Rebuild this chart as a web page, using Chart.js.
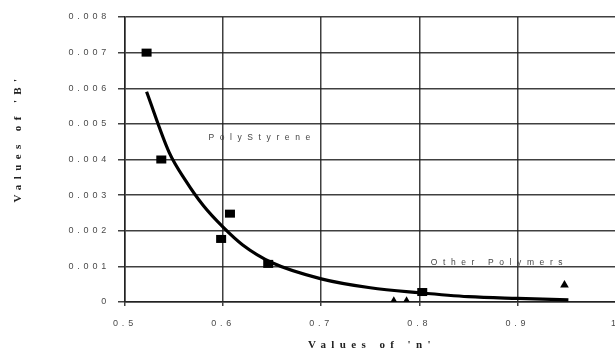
<!DOCTYPE html>
<html>
<head>
<meta charset="utf-8">
<script src="https://cdn.jsdelivr.net/npm/chart.js@4.4.1/dist/chart.umd.min.js"></script>
<style>
html,body{margin:0;padding:0;background:#fff;overflow:hidden;width:615px;height:353px;}
#wrap{position:relative;width:630px;height:353px;}
</style>
</head>
<body>
<div id="wrap"><canvas id="c" width="630" height="353"></canvas></div>
<script>
// Data
const polystyreneN = [0.522, 0.537, 0.598, 0.607, 0.646, 0.803];
const polystyreneB = [0.0070, 0.0040, 0.00177, 0.00248, 0.00107, 0.00028];
const otherN = [0.774, 0.787, 0.948];
const otherB = [0.00002, 0.00002, 0.00048];
const fitN = [0.522, 0.545, 0.562, 0.58, 0.6, 0.62, 0.65, 0.7, 0.75, 0.8, 0.85, 0.9, 0.952];
const fitB = [0.0059, 0.0042, 0.0034, 0.0027, 0.0021, 0.0016, 0.0011, 0.00065, 0.0004, 0.00026, 0.00015, 0.0001, 0.00006];
const xTicks = [0.5, 0.6, 0.7, 0.8, 0.9, 1];
const yTicks = [0, 0.001, 0.002, 0.003, 0.004, 0.005, 0.006, 0.007, 0.008];
const xTitle = "Values of 'n'";
const yTitle = "Values of 'B'";
const labelPoly = "PolyStyrene";
const labelOther = "Other Polymers";

const zip = (a, b) => a.map((v, i) => ({x: v, y: b[i]}));

const spacingPlugin = {
  id: 'spacing',
  beforeDraw(chart) { chart.ctx.letterSpacing = '3.8px'; },
  afterDraw(chart) {
    const ctx = chart.ctx;
    const xs = chart.scales.x, ys = chart.scales.y;
    ctx.save();
    ctx.letterSpacing = '5.6px';
    ctx.font = '8.5px "Liberation Sans", Arial, sans-serif';
    ctx.fillStyle = '#444';
    ctx.textBaseline = 'middle';
    ctx.textAlign = 'left';
    ctx.fillText(labelPoly, xs.getPixelForValue(0.585), ys.getPixelForValue(0.00462));
    ctx.fillText(labelOther, xs.getPixelForValue(0.8117), ys.getPixelForValue(0.0011));
    ctx.letterSpacing = '5.4px';
    ctx.font = 'bold 11px "Liberation Serif", "Times New Roman", serif';
    ctx.fillStyle = '#222';
    ctx.textAlign = 'center';
    ctx.fillText(xTitle, 372, 345);
    ctx.translate(18, 138);
    ctx.rotate(-Math.PI / 2);
    ctx.fillText(yTitle, 0, 0);
    ctx.restore();
  }
};

const rectPlugin = {
  id: 'rects',
  afterDatasetsDraw(chart) {
    const ctx = chart.ctx;
    const meta = chart.getDatasetMeta(1);
    ctx.save();
    ctx.fillStyle = '#000';
    meta.data.forEach(p => { ctx.fillRect(p.x - 5, p.y - 4, 10, 8); });
    ctx.restore();
  }
};

new Chart(document.getElementById('c'), {
  type: 'scatter',
  data: {
    datasets: [
      {
        label: 'fit', type: 'line', data: zip(fitN, fitB),
        borderColor: '#000', borderWidth: 3.2, pointRadius: 0,
        cubicInterpolationMode: 'monotone', fill: false, order: 2
      },
      {
        label: 'PolyStyrene', data: zip(polystyreneN, polystyreneB),
        pointRadius: 0, order: 1,
        backgroundColor: '#000', borderColor: '#000'
      },
      {
        label: 'Other Polymers', data: zip(otherN, otherB),
        pointStyle: 'triangle', pointRadius: 5, order: 1,
        backgroundColor: '#000', borderColor: '#000', borderWidth: 0
      }
    ]
  },
  options: {
    responsive: false,
    animation: false,
    devicePixelRatio: 1,
    layout: {padding: {left: 0, right: 11, top: 17, bottom: 0}},
    plugins: {legend: {display: false}, tooltip: {enabled: false}},
    scales: {
      x: {
        type: 'linear', min: 0.5, max: 1,
        afterBuildTicks(s) { s.ticks = xTicks.map(v => ({value: v})); },
        grid: {color: 'rgba(30,30,30,0.85)', lineWidth: 1.5, tickLength: 4, drawTicks: true},
        border: {color: '#222', width: 1.5},
        ticks: {
          color: '#4a4a4a', padding: 12, maxRotation: 0,
          font: {size: 9, family: '"Liberation Sans", Arial, sans-serif'},
          callback: v => String(v)
        },
        afterFit(s) { s.height = 51; }
      },
      y: {
        type: 'linear', min: 0, max: 0.008,
        afterBuildTicks(s) { s.ticks = yTicks.map(v => ({value: v})); },
        grid: {color: 'rgba(30,30,30,0.85)', lineWidth: 1.5, tickLength: 7},
        border: {color: '#222', width: 1.5},
        ticks: {
          color: '#4a4a4a', padding: 8,
          font: {size: 9, family: '"Liberation Sans", Arial, sans-serif'},
          callback: v => v === 0 ? '0' : v.toFixed(3)
        },
        afterFit(s) { s.width = 125; }
      }
    }
  },
  plugins: [spacingPlugin, rectPlugin]
});
</script>
</body>
</html>
